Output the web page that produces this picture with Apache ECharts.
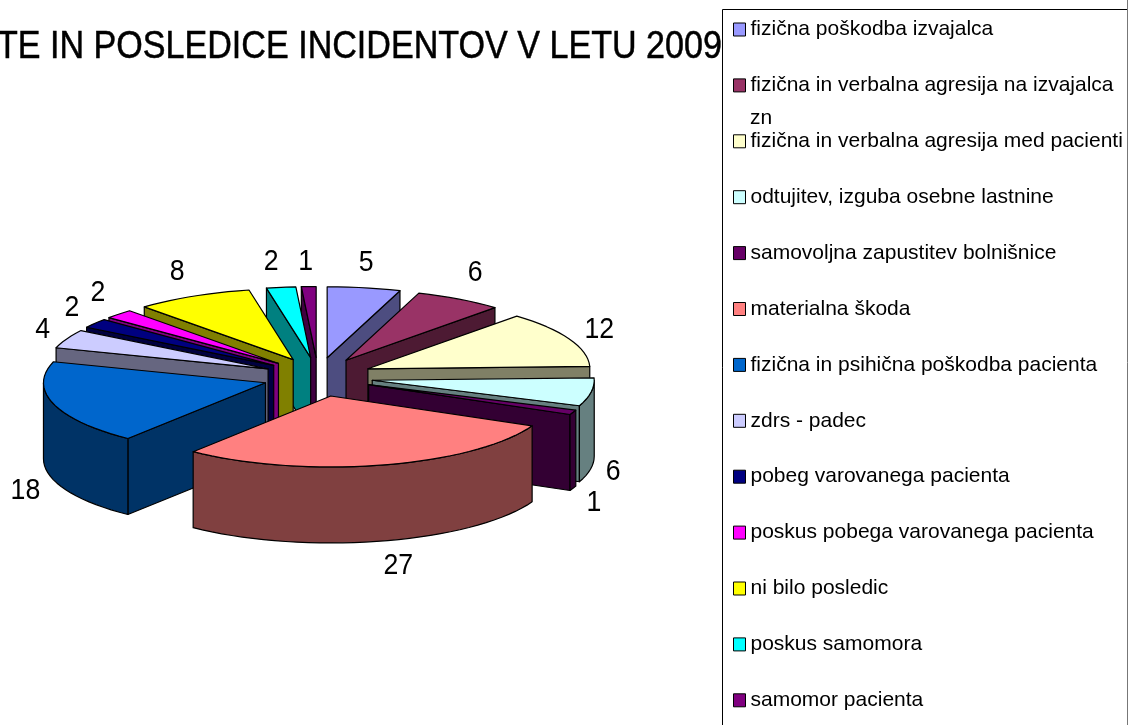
<!DOCTYPE html>
<html><head><meta charset="utf-8">
<style>html,body{margin:0;padding:0;background:#fff}#c{width:1128px;height:725px}</style>
<script src="https://cdn.jsdelivr.net/npm/echarts@6/dist/echarts.min.js"></script></head>
<body><div id="c"></div>
<script>
const categories = ['fizična poškodba izvajalca','fizična in verbalna agresija na izvajalca','fizična in verbalna agresija med pacienti','odtujitev, izguba osebne lastnine','samovoljna zapustitev bolnišnice','materialna škoda','fizična in psihična poškodba pacienta','zdrs - padec','pobeg varovanega pacienta','poskus pobega varovanega pacienta','ni bilo posledic','poskus samomora','samomor pacienta'];
const values = [5,6,12,6,1,27,18,4,2,2,8,2,1];
const colors = ['#9999FF','#993366','#FFFFCC','#CCFFFF','#660066','#FF8080','#0066CC','#CCCCFF','#000080','#FF00FF','#FFFF00','#00FFFF','#800080'];
const drawOrder = [0,12,11,10,9,8,7,1,2,3,4,6,5];
const labelNudge = [[2,-25],[16,-26],[30,-9],[22,4],[21,15],[16,25],[-28,11],[-24,-9],[-23,-15],[-21,-21],[-16,-24],[-10,-25],[-3,-25]];
const titleText = 'TE IN POSLEDICE INCIDENTOV V LETU 2009';

const total = values.reduce((a,b)=>a+b,0);
const PIE = {cx:318, cy:377, rx:222, ry:71, depth:76, ex:55, ey:19.5};
const rad = d => d*Math.PI/180;
function shade(hex){const n=parseInt(hex.slice(1),16);const f=v=>Math.round(v*0.5);
  return `rgb(${f(n>>16&255)},${f(n>>8&255)},${f(n&255)})`;}
function angles(i){let s=0;for(let k=0;k<i;k++)s+=values[k];return [s/total*360,(s+values[i])/total*360];}

function makeRender(i){
  return function(params, api){
    const val = api.value(0);
    const [a0,a1] = angles(i);
    const mid = (a0+a1)/2;
    const vx = PIE.cx + PIE.ex*Math.sin(rad(mid));
    const vy = PIE.cy - PIE.ey*Math.cos(rad(mid));
    const pt = (a,d=0)=>[vx+PIE.rx*Math.sin(rad(a)), vy-PIE.ry*Math.cos(rad(a))+d];
    const arc = (s,e,d=0)=>{const n=Math.max(1,Math.ceil((e-s)/3));const o=[];for(let k=0;k<=n;k++)o.push(pt(s+(e-s)*k/n,d));return o;};
    const top = colors[i], dark = shade(colors[i]);
    const line = {stroke:'#000', lineWidth:1.2, lineJoin:'round'};
    const kids = [];
    const poly = (points,fill)=>kids.push({type:'polygon',shape:{points},style:Object.assign({fill},line)});
    if(Math.sin(rad(a0))<0) poly([[vx,vy],pt(a0),pt(a0,PIE.depth),[vx,vy+PIE.depth]],dark);
    if(Math.sin(rad(a1))>0) poly([[vx,vy],pt(a1),pt(a1,PIE.depth),[vx,vy+PIE.depth]],dark);
    const rs=Math.max(a0,90), re=Math.min(a1,270);
    if(re>rs) poly(arc(rs,re).concat(arc(rs,re,PIE.depth).reverse()),dark);
    poly([[vx,vy]].concat(arc(a0,a1)),top);
    const front = mid>90 && mid<270;
    const lx = vx+PIE.rx*Math.sin(rad(mid))+labelNudge[i][0];
    const ly = vy-PIE.ry*Math.cos(rad(mid))+(front?PIE.depth:0)+labelNudge[i][1];
    kids.push({type:'text',x:lx,y:ly,scaleX:0.92,style:{text:String(val),fill:'#000',font:'29px "Liberation Sans", Arial, sans-serif',textAlign:'center',textVerticalAlign:'middle'}});
    return {type:'group',children:kids};
  };
}

const series = drawOrder.map(i=>({
  type:'custom', name:categories[i], coordinateSystem:'none', silent:true,
  itemStyle:{color:colors[i]}, data:[[values[i]]], renderItem:makeRender(i), animation:false
}));

const chart = echarts.init(document.getElementById('c'),null,{renderer:'canvas'});
chart.setOption({
  animation:false, backgroundColor:'#fff',
  legend:{data:categories,orient:'vertical',left:733,top:19,padding:0,itemWidth:12,itemHeight:13,itemGap:34.9,
    icon:'rect',itemStyle:{borderColor:'#000',borderWidth:1},selectedMode:false,
    textStyle:{color:'#000',fontSize:21,fontFamily:'"Liberation Sans",Arial,sans-serif'}},
  series,
  graphic:[
    {type:'text',x:-3,y:48,scaleX:0.897,style:{text:titleText,fill:'#000',stroke:'#000',lineWidth:0.5,font:'38px "Liberation Sans",Arial,sans-serif',textAlign:'left',textVerticalAlign:'middle'}},
    {type:'polyline',shape:{points:[[1128,9.5],[722.5,9.5],[722.5,725]]},style:{stroke:'#000',lineWidth:1,fill:null}},
    {type:'polyline',shape:{points:[[1127.5,0],[1127.5,725]]},style:{stroke:'#777',lineWidth:1,fill:null}},
    {type:'text',x:750,y:108,style:{text:'zn',fill:'#000',font:'21px "Liberation Sans",Arial,sans-serif'}}
  ]
});
</script></body></html>
